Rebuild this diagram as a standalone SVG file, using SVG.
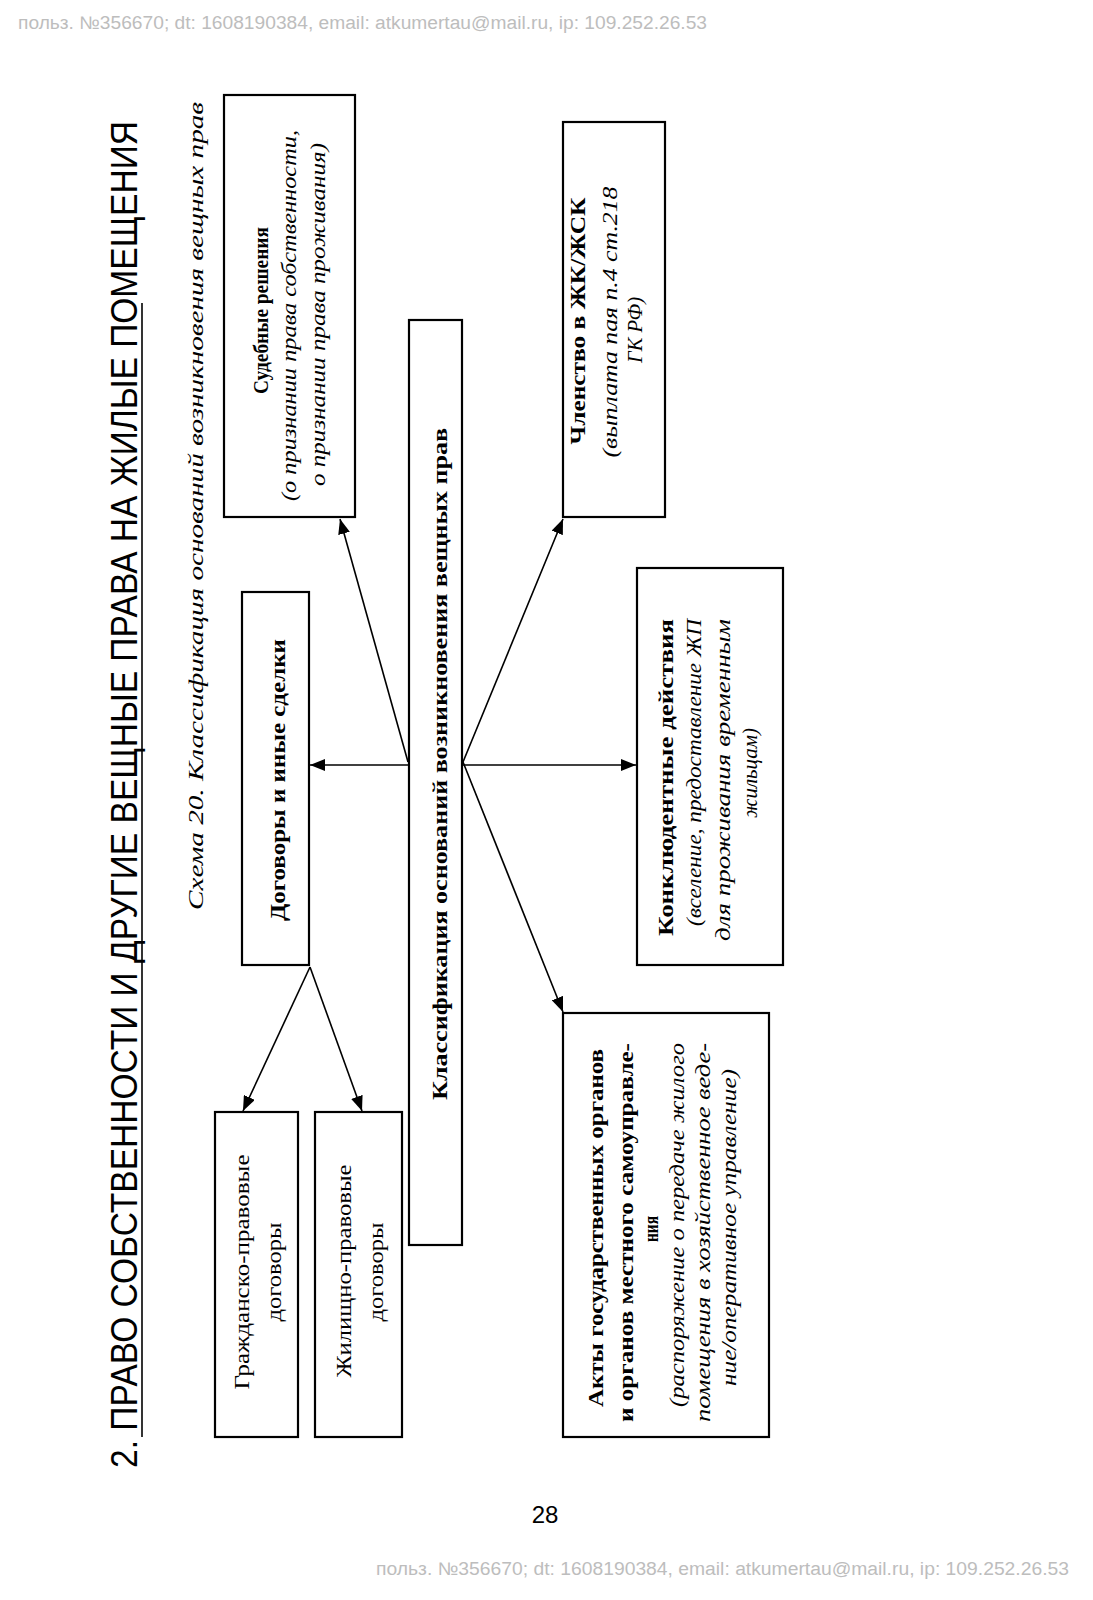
<svg xmlns="http://www.w3.org/2000/svg" width="1093" height="1600" viewBox="0 0 1093 1600">
<defs>
<marker id="ah" markerUnits="userSpaceOnUse" markerWidth="16" markerHeight="12" refX="15" refY="6" orient="auto">
<path d="M0,0 L15,6 L0,12 z" fill="#000"/>
</marker>
<style>
.box{fill:#fff;stroke:#000;stroke-width:2.2}
.wm{font-family:"Liberation Sans",Arial,sans-serif;font-size:18px;fill:#bdbdbd}
.b{font-family:"Liberation Serif","Times New Roman",serif;font-size:20px;font-weight:bold;fill:#000;text-anchor:middle}
.i{font-family:"Liberation Serif","Times New Roman",serif;font-size:20px;font-style:italic;fill:#000;text-anchor:middle}
.r{font-family:"Liberation Serif","Times New Roman",serif;font-size:20px;fill:#000;text-anchor:middle}
.con{fill:none;stroke:#000;stroke-width:1.6;marker-end:url(#ah)}
</style>
</defs>
<rect width="1093" height="1600" fill="#fff"/>
<text class="wm" x="18" y="29" textLength="689" lengthAdjust="spacingAndGlyphs">польз. №356670; dt: 1608190384, email: atkumertau@mail.ru, ip: 109.252.26.53</text>
<text class="wm" x="376" y="1575" textLength="693" lengthAdjust="spacingAndGlyphs">польз. №356670; dt: 1608190384, email: atkumertau@mail.ru, ip: 109.252.26.53</text>
<text x="545" y="1523" font-family="'Liberation Sans',Arial,sans-serif" font-size="24" text-anchor="middle" fill="#000">28</text>
<g id="title">
<text x="137" y="794.5" transform="rotate(-90 137 794.5)" font-family="'Liberation Sans',Arial,sans-serif" font-size="36" text-anchor="middle" textLength="1347" lengthAdjust="spacingAndGlyphs" fill="#000">2. ПРАВО СОБСТВЕННОСТИ И ДРУГИЕ ВЕЩНЫЕ ПРАВА НА ЖИЛЫЕ ПОМЕЩЕНИЯ</text>
<line x1="142" y1="303" x2="142" y2="1437" stroke="#000" stroke-width="1.6"/>
</g>
<g id="caption">
<text class="i" x="203" y="506" transform="rotate(-90 203 506)" font-size="23" textLength="808" lengthAdjust="spacingAndGlyphs">Схема 20. Классификация оснований возникновения вещных прав</text>
</g>
<g id="connectors">
<line class="con" x1="409" y1="765" x2="310" y2="765"/>
<line class="con" x1="408" y1="762" x2="340" y2="519"/>
<line class="con" x1="463" y1="762" x2="563" y2="519"/>
<line class="con" x1="463" y1="765" x2="636" y2="765"/>
<line class="con" x1="463" y1="762" x2="563" y2="1012"/>
<line class="con" x1="310" y1="967" x2="243" y2="1111"/>
<line class="con" x1="310" y1="967" x2="362" y2="1111"/>
</g>
<g id="n-sud">
<rect class="box" x="224" y="95" width="131" height="422"/>
<text class="b" x="268" y="310.5" transform="rotate(-90 268 310.5)" textLength="167" lengthAdjust="spacingAndGlyphs">Судебные решения</text>
<text class="i" x="296" y="315.5" transform="rotate(-90 296 315.5)" textLength="371" lengthAdjust="spacingAndGlyphs">(о признании права собственности,</text>
<text class="i" x="325" y="314.5" transform="rotate(-90 325 314.5)" textLength="343" lengthAdjust="spacingAndGlyphs">о признании права проживания)</text>
</g>
<g id="n-dog">
<rect class="box" x="242" y="592" width="67" height="373"/>
<text class="b" x="285" y="780" transform="rotate(-90 285 780)" textLength="282" lengthAdjust="spacingAndGlyphs">Договоры и иные сделки</text>
</g>
<g id="n-center">
<rect class="box" x="409" y="320" width="53" height="925"/>
<text class="b" x="447" y="764" transform="rotate(-90 447 764)" textLength="672" lengthAdjust="spacingAndGlyphs">Классификация оснований возникновения вещных прав</text>
</g>
<g id="n-chl">
<rect class="box" x="563" y="122" width="102" height="395"/>
<text class="b" x="585" y="321" transform="rotate(-90 585 321)" textLength="247" lengthAdjust="spacingAndGlyphs">Членство в ЖК/ЖСК</text>
<text class="i" x="617" y="322" transform="rotate(-90 617 322)" textLength="271" lengthAdjust="spacingAndGlyphs">(выплата пая п.4 ст.218</text>
<text class="i" x="642" y="330" transform="rotate(-90 642 330)" textLength="66" lengthAdjust="spacingAndGlyphs">ГК РФ)</text>
</g>
<g id="n-kon">
<rect class="box" x="637" y="568" width="146" height="397"/>
<text class="b" x="673" y="777.5" transform="rotate(-90 673 777.5)" textLength="317" lengthAdjust="spacingAndGlyphs">Конклюдентные действия</text>
<text class="i" x="701" y="772.5" transform="rotate(-90 701 772.5)" textLength="307" lengthAdjust="spacingAndGlyphs">(вселение, предоставление ЖП</text>
<text class="i" x="730" y="780" transform="rotate(-90 730 780)" textLength="322" lengthAdjust="spacingAndGlyphs">для проживания временным</text>
<text class="i" x="757" y="773" transform="rotate(-90 757 773)" textLength="90" lengthAdjust="spacingAndGlyphs">жильцам)</text>
</g>
<g id="n-akty">
<rect class="box" x="563" y="1013" width="206" height="424"/>
<text class="b" x="603" y="1228" transform="rotate(-90 603 1228)" textLength="358" lengthAdjust="spacingAndGlyphs">Акты государственных органов</text>
<text class="b" x="633" y="1232.5" transform="rotate(-90 633 1232.5)" textLength="379" lengthAdjust="spacingAndGlyphs">и органов местного самоуправле-</text>
<text class="b" x="658" y="1229" transform="rotate(-90 658 1229)" textLength="26" lengthAdjust="spacingAndGlyphs">ния</text>
<text class="i" x="684" y="1225" transform="rotate(-90 684 1225)" textLength="364" lengthAdjust="spacingAndGlyphs">(распоряжение о передаче жилого</text>
<text class="i" x="710" y="1232.5" transform="rotate(-90 710 1232.5)" textLength="379" lengthAdjust="spacingAndGlyphs">помещения в хозяйственное веде-</text>
<text class="i" x="736" y="1227.5" transform="rotate(-90 736 1227.5)" textLength="317" lengthAdjust="spacingAndGlyphs">ние/оперативное управление)</text>
</g>
<g id="n-grazh">
<rect class="box" x="215" y="1112" width="83" height="325"/>
<text class="r" x="249" y="1272" transform="rotate(-90 249 1272)" textLength="235" lengthAdjust="spacingAndGlyphs">Гражданско-правовые</text>
<text class="r" x="281" y="1272" transform="rotate(-90 281 1272)" textLength="99" lengthAdjust="spacingAndGlyphs">договоры</text>
</g>
<g id="n-zhil">
<rect class="box" x="315" y="1112" width="87" height="325"/>
<text class="r" x="351" y="1271" transform="rotate(-90 351 1271)" textLength="213" lengthAdjust="spacingAndGlyphs">Жилищно-правовые</text>
<text class="r" x="383" y="1272" transform="rotate(-90 383 1272)" textLength="99" lengthAdjust="spacingAndGlyphs">договоры</text>
</g>
</svg>
